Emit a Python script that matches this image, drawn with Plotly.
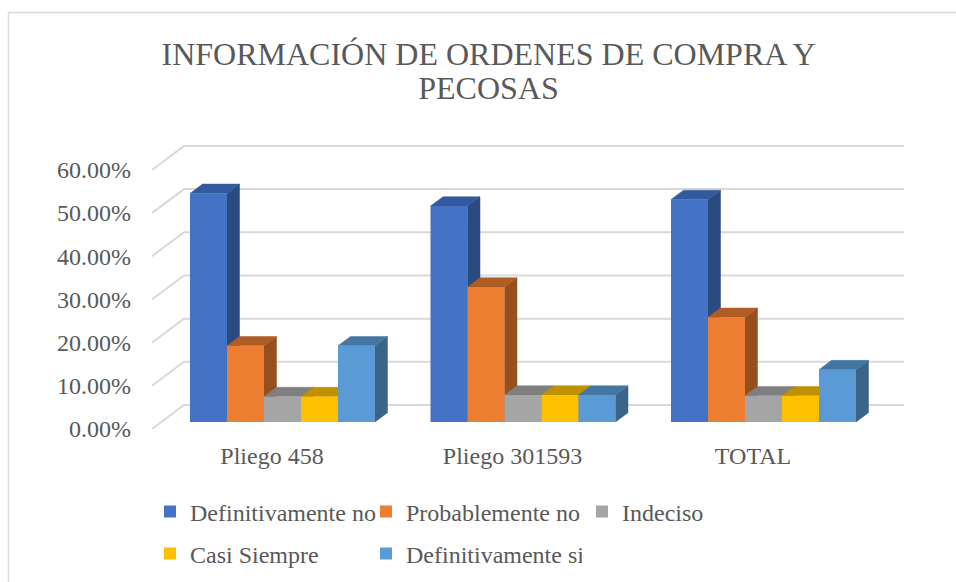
import plotly.graph_objects as go

title_lines = ["INFORMACIÓN DE ORDENES DE COMPRA Y", "PECOSAS"]
categories = ["Pliego 458", "Pliego 301593", "TOTAL"]
series_names = ["Definitivamente no", "Probablemente no", "Indeciso", "Casi Siempre", "Definitivamente si"]
definitivamente_no = [52.94, 50.00, 51.52]
probablemente_no = [17.65, 31.25, 24.24]
indeciso = [5.88, 6.25, 6.06]
casi_siempre = [5.88, 6.25, 6.06]
definitivamente_si = [17.65, 6.25, 12.12]
y_ticks = [0, 10, 20, 30, 40, 50, 60]
y_tick_labels = ["0.00%", "10.00%", "20.00%", "30.00%", "40.00%", "50.00%", "60.00%"]

series_values = [definitivamente_no, probablemente_no, indeciso, casi_siempre, definitivamente_si]
front = ["#4472C4", "#ED7D31", "#A5A5A5", "#FFC000", "#5B9BD5"]
side = ["#2B4A80", "#96501E", "#6B6B6B", "#A67C00", "#3A6488"]
top = ["#335A9E", "#B05D25", "#7F7F7F", "#BF9000", "#4476A3"]

W, H = 956, 582
L, R, T, B = 152, 904, 144, 429
FONT = "Liberation Serif"
GREY = "#595959"
Y_MAX = 66
px_x = 240.5
px_y = (B - T) / Y_MAX
xr = [(L - 282.5) / px_x, (R - 282.5) / px_x]
bar_w = 37 / px_x
bar_base = 7 / px_y
dx, dy = 12.5 / px_x, 9.3 / px_y
wall_dx, wall_dy = 32 / px_x, 24 / px_y

fig = go.Figure()

# walls
gx, gy = [], []
for v in y_ticks:
    gx += [xr[0], xr[0] + wall_dx, xr[1], None]
    gy += [v, v + wall_dy, v + wall_dy, None]
fig.add_trace(go.Scatter(x=gx, y=gy, mode="lines", line=dict(color="#D9D9D9", width=2),
                         showlegend=False, hoverinfo="skip"))

# depth faces
for j, vals in enumerate(series_values):
    sx, sy, tx, ty = [], [], [], []
    for i, v in enumerate(vals):
        left = i + (j - 2.5) * bar_w
        right = left + bar_w
        t = bar_base + v
        sx += [right, right + dx, right + dx, right, right, None]
        sy += [bar_base, bar_base + dy, t + dy, t, bar_base, None]
        tx += [left, left + dx, right + dx, right, left, None]
        ty += [t, t + dy, t + dy, t, t, None]
    fig.add_trace(go.Scatter(x=sx, y=sy, mode="lines", fill="toself", fillcolor=side[j],
                             line=dict(color=side[j], width=0.5), showlegend=False, hoverinfo="skip"))
    fig.add_trace(go.Scatter(x=tx, y=ty, mode="lines", fill="toself", fillcolor=top[j],
                             line=dict(color=top[j], width=0.5), showlegend=False, hoverinfo="skip"))

# front faces
for j, vals in enumerate(series_values):
    fig.add_trace(go.Bar(x=list(range(len(categories))), y=vals, base=bar_base, name=series_names[j],
                         marker=dict(color=front[j], line=dict(width=0)),
                         xaxis="x2", yaxis="y2", legend="legend" if j < 3 else "legend2"))

legend_common = dict(orientation="h", font=dict(family=FONT, size=24, color=GREY),
                     entrywidth=171, entrywidthmode="pixels", xref="container", yref="container",
                     xanchor="left", yanchor="middle", bgcolor="rgba(0,0,0,0)", tracegroupgap=0,
                     itemclick=False, itemdoubleclick=False)

title_text = "<br>".join(f'<span style="font-size:32px">{s}</span>' for s in title_lines)

fig.update_layout(
    width=W, height=H, autosize=False, paper_bgcolor="white", plot_bgcolor="rgba(0,0,0,0)",
    margin=dict(l=L, r=W - R, t=T, b=H - B, autoexpand=False),
    barmode="group", bargap=1.5 / 6.5, bargroupgap=0,
    title=dict(text=title_text, x=488.5 / W, xanchor="center",
               y=1 - 65 / H, yanchor="middle", font=dict(family=FONT, size=34 / 1.3, color=GREY)),
    xaxis=dict(range=xr, tickmode="array", tickvals=[i - 0.0437 for i in range(3)], ticktext=categories,
               showgrid=False, zeroline=False, showline=False, ticks="", ticklabelstandoff=10,
               tickfont=dict(family=FONT, size=24, color=GREY)),
    yaxis=dict(range=[0, Y_MAX], tickmode="array", tickvals=y_ticks, ticktext=y_tick_labels,
               showgrid=False, zeroline=False, showline=False, ticks="", ticklabelstandoff=20,
               tickfont=dict(family=FONT, size=24, color=GREY)),
    xaxis2=dict(range=xr, overlaying="x", visible=False),
    yaxis2=dict(range=[0, Y_MAX], overlaying="y", visible=False),
    legend=dict(x=150 / W, y=1 - 512 / H, **legend_common),
    legend2=dict(x=150 / W, y=1 - 554 / H, **legend_common),
    shapes=[
        dict(type="line", xref="paper", yref="paper",
             x0=(8.5 - L) / (R - L), x1=(956 - L) / (R - L),
             y0=(B - 12.5) / (B - T), y1=(B - 12.5) / (B - T),
             line=dict(color="#D9D9D9", width=1.5), layer="below"),
        dict(type="line", xref="paper", yref="paper",
             x0=(8.5 - L) / (R - L), x1=(8.5 - L) / (R - L),
             y0=(B - 582) / (B - T), y1=(B - 12.5) / (B - T),
             line=dict(color="#D9D9D9", width=1.5), layer="below"),
    ],
)
fig.write_html("out.html", config=dict(displayModeBar=False),
               post_script="document.body.style.margin='0';")
